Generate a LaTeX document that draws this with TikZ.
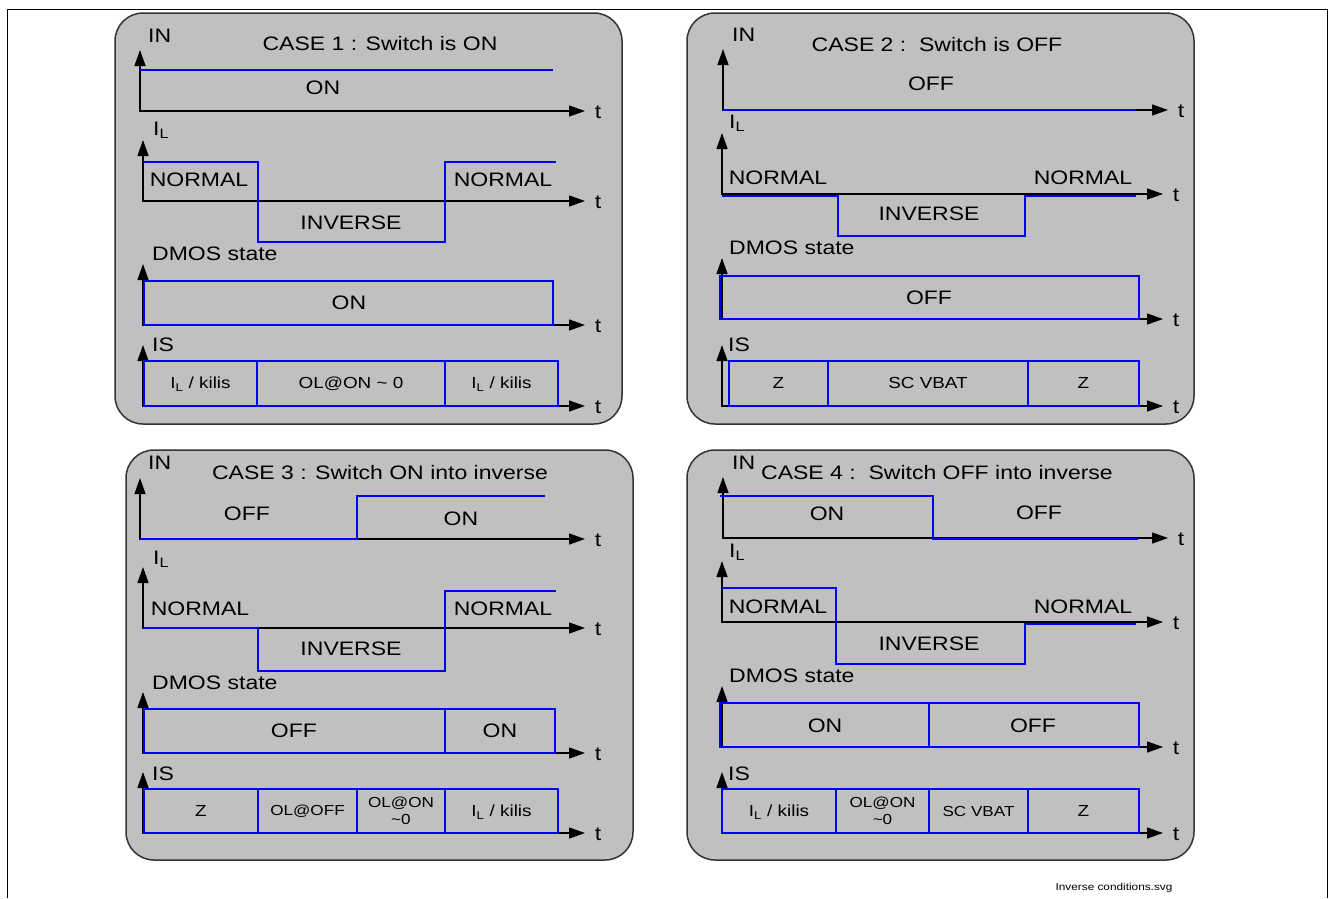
\documentclass[tikz,border=0pt]{standalone}
\usepackage{fontspec}
\setmainfont{Liberation Sans}[FakeStretch=1.18]
\usetikzlibrary{arrows.meta, positioning}
\definecolor{panelgray}{RGB}{192,192,192}
\definecolor{waveblue}{RGB}{0,0,255}

\begin{document}
\begin{tikzpicture}[x=1pt, y=-1pt, >={Triangle[length=16pt, width=11pt]},
  panel/.style={draw=black!80, line width=1.5pt, fill=panelgray, rounded corners=28pt},
  axis/.style={<->, line width=1.3pt},
  wave/.style={draw=waveblue, line width=2pt},
  lbl/.style={font=\fontsize{19.5}{22}\selectfont, inner sep=0pt, text height=14pt, text depth=0pt},
  cell/.style={font=\fontsize{16}{18}\selectfont, inner sep=0pt, text height=11.5pt, text depth=0pt},
  tcell/.style={font=\fontsize{14.5}{17}\selectfont, inner sep=0pt, align=center}]
\useasboundingbox (0,0) rectangle (1331,898);
\draw[line width=1pt] (7,898) -- (7,9) -- (1327,9) -- (1327,898);

% CASE 1
\draw[panel] (115,13) rectangle (622,424);
\node[lbl] (title1) at (380,43) {CASE 1 : Switch is ON};
\foreach \x/\y/\n in {140/111/in, 143/201/il, 143/325/dm, 143/406/is}
  {\draw[axis] (\x,\y-61) |- (585,\y); \node[lbl] (t1\n) at (598,\y) {t};}
\node[lbl, anchor=west] (in1) at (148,35) {IN};
\draw[wave] (140,70) -- (553,70);
\node[lbl] (on1) at (323,87) {ON};
\node[lbl, anchor=west] (il1) at (153,128) {I\textsubscript{L}};
\draw[wave] (143,162) -| (258,242) -| (445,162) -- (556,162);
\node[lbl] (normal1a) at (199,179) {NORMAL};
\node[lbl] (normal1b) at (503,179) {NORMAL};
\node[lbl] (inverse1) at (351,222) {INVERSE};
\node[lbl, anchor=west] (dmos1) at (152,253) {DMOS state};
\draw[wave] (144,281) rectangle (553,325);
\node[lbl] (dmon1) at (349,302) {ON};
\node[lbl, anchor=west] (is1) at (152,344) {IS};
\foreach \a/\b/\s [count=\k] in {144/257/{I\textsubscript{L} / kilis}, 257/445/{OL@ON \textasciitilde{} 0}, 445/558/{I\textsubscript{L} / kilis}}
  {\draw[wave] (\a,361) rectangle (\b,406); \node[cell] (is1c\k) at ({(\a+\b)/2},383) {\s};}

% CASE 2
\draw[panel] (687,13) rectangle (1194,424);
\node[lbl] (title2) at (937,44) {CASE 2 :\ \ Switch is OFF};
\foreach \x/\y/\e/\n in {723/110/1168/in, 722/194/1163/il, 722/319/1163/dm, 722/406/1163/is}
  {\draw[axis] (\x,\y-61) |- (\e,\y); \node[lbl] (t2\n) at (\e+13,\y) {t};}
\node[lbl, anchor=west] (in2) at (732,34) {IN};
\draw[wave] (723,110) -- (1136,110);
\node[lbl] (off2) at (931,83) {OFF};
\node[lbl, anchor=west] (il2) at (729,121) {I\textsubscript{L}};
\draw[wave] (722,196) -| (838,236) -| (1025,196) -- (1136,196);
\node[lbl] (normal2a) at (778,177) {NORMAL};
\node[lbl] (normal2b) at (1083,177) {NORMAL};
\node[lbl] (inverse2) at (929,213) {INVERSE};
\node[lbl, anchor=west] (dmos2) at (729,247) {DMOS state};
\draw[wave] (720,276) rectangle (1139,319);
\node[lbl] (dmoff2) at (929,297) {OFF};
\node[lbl, anchor=west] (is2) at (728,344) {IS};
\foreach \a/\b/\s [count=\k] in {729/828/Z, 828/1028/SC VBAT, 1028/1139/Z}
  {\draw[wave] (\a,361) rectangle (\b,406); \node[cell] (is2c\k) at ({(\a+\b)/2},383) {\s};}

% CASE 3
\draw[panel] (126,450) rectangle (633,860);
\node[lbl] (title3) at (380,472) {CASE 3 : Switch ON into inverse};
\foreach \x/\y/\n in {140/539/in, 143/628/il, 143/753/dm, 143/833/is}
  {\draw[axis] (\x,\y-61) |- (585,\y); \node[lbl] (t3\n) at (598,\y) {t};}
\node[lbl, anchor=west] (in3) at (148,462) {IN};
\draw[wave] (140,539) -| (357,496) -- (545,496);
\node[lbl] (off3) at (247,513) {OFF};
\node[lbl] (on3) at (461,518) {ON};
\node[lbl, anchor=west] (il3) at (153,557) {I\textsubscript{L}};
\draw[wave] (143,628) -| (258,671) -| (445,591) -- (556,591);
\node[lbl] (normal3a) at (200,608) {NORMAL};
\node[lbl] (normal3b) at (503,608) {NORMAL};
\node[lbl] (inverse3) at (351,648) {INVERSE};
\node[lbl, anchor=west] (dmos3) at (152,682) {DMOS state};
\draw[wave] (144,709) rectangle (445,753) (445,709) rectangle (555,753);
\node[lbl] (dmoff3) at (294,730) {OFF};
\node[lbl] (dmon3) at (500,730) {ON};
\node[lbl, anchor=west] (is3) at (152,773) {IS};
\foreach \a/\b/\s/\f [count=\k] in {144/258/Z/cell, 258/357/OL@OFF/tcell, 357/445/{OL@ON\\\textasciitilde0}/tcell, 445/558/{I\textsubscript{L} / kilis}/cell}
  {\draw[wave] (\a,789) rectangle (\b,833); \node[\f] (is3c\k) at ({(\a+\b)/2},811) {\s};}

% CASE 4
\draw[panel] (687,450) rectangle (1194,860);
\node[lbl] (title4) at (937,472) {CASE 4 :\ \ Switch OFF into inverse};
\foreach \x/\y/\e/\n in {723/538/1168/in, 722/622/1163/il, 722/747/1163/dm, 722/833/1163/is}
  {\draw[axis] (\x,\y-61) |- (\e,\y); \node[lbl] (t4\n) at (\e+13,\y) {t};}
\node[lbl, anchor=west] (in4) at (732,462) {IN};
\draw[wave] (720,496) -| (933,539) -- (1138,539);
\node[lbl] (on4) at (827,513) {ON};
\node[lbl] (off4) at (1039,512) {OFF};
\node[lbl, anchor=west] (il4) at (729,550) {I\textsubscript{L}};
\draw[wave] (722,588) -| (836,664) -| (1025,624) -- (1136,624);
\node[lbl] (normal4a) at (778,606) {NORMAL};
\node[lbl] (normal4b) at (1083,606) {NORMAL};
\node[lbl] (inverse4) at (929,643) {INVERSE};
\node[lbl, anchor=west] (dmos4) at (729,675) {DMOS state};
\draw[wave] (720,703) rectangle (929,747) (929,703) rectangle (1139,747);
\node[lbl] (dmon4) at (825,725) {ON};
\node[lbl] (dmoff4) at (1033,725) {OFF};
\node[lbl, anchor=west] (is4) at (728,773) {IS};
\foreach \a/\b/\s/\f [count=\k] in {722/836/{I\textsubscript{L} / kilis}/cell, 836/929/{OL@ON\\\textasciitilde0}/tcell, 929/1028/SC VBAT/tcell, 1028/1139/Z/cell}
  {\draw[wave] (\a,789) rectangle (\b,833); \node[\f] (is4c\k) at ({(\a+\b)/2},811) {\s};}

\node[font=\fontsize{10}{12}\selectfont] (caption) at (1114,888) {Inverse conditions.svg};
\end{tikzpicture}
\end{document}
